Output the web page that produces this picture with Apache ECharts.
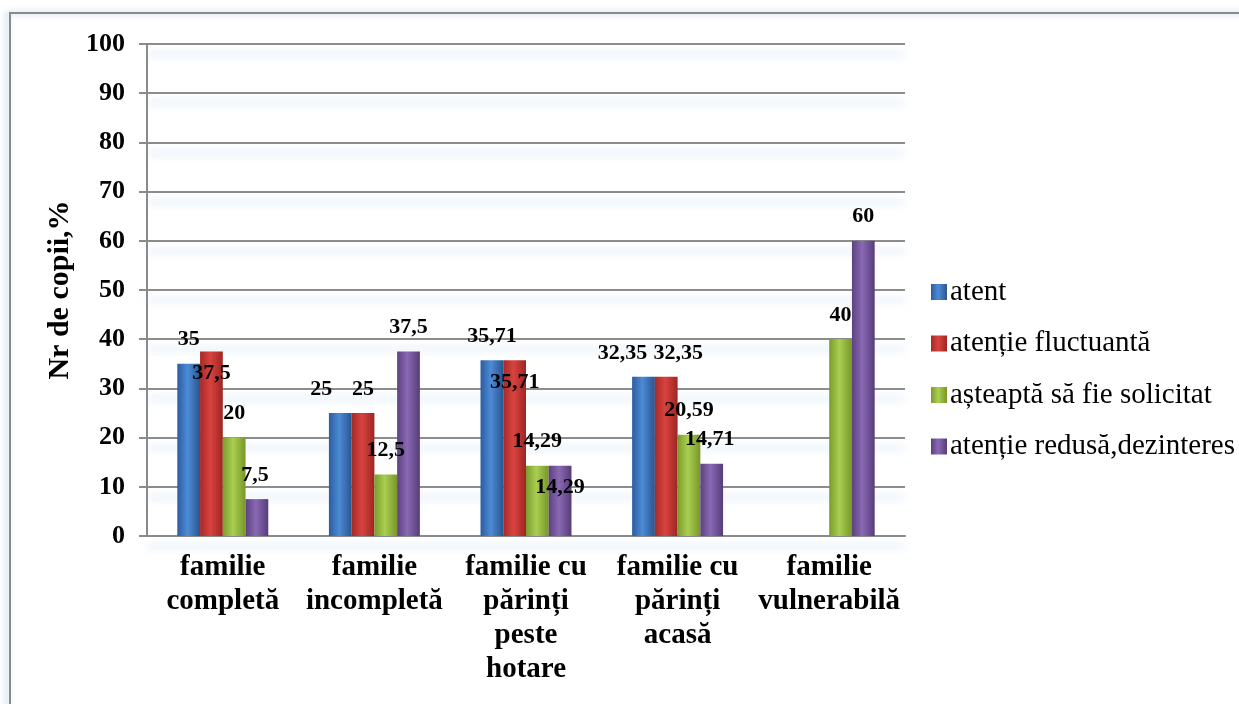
<!DOCTYPE html>
<html>
<head>
<meta charset="utf-8">
<script src="https://cdn.jsdelivr.net/npm/echarts@6/dist/echarts.min.js"></script>
<style>
  html, body { margin: 0; padding: 0; background: #fff; }
  #chart { width: 1239px; height: 704px; }
</style>
</head>
<body>
<div id="chart"></div>
<script>
const categories = [
  'familie\ncompletă',
  'familie\nincompletă',
  'familie cu\npărinți\npeste\nhotare',
  'familie cu\npărinți\nacasă',
  'familie\nvulnerabilă',
];
const seriesNames = ['atent', 'atenție fluctuantă', 'așteaptă să fie solicitat', 'atenție redusă,dezinteres'];
const atent = [35, 25, 35.71, 32.35, null];
const atentieFluctuanta = [37.5, 25, 35.71, 32.35, null];
const asteaptaSolicitat = [20, 12.5, 14.29, 20.59, 40];
const atentieRedusa = [7.5, 37.5, 14.29, 14.71, 60];
const yTicks = { min: 0, max: 100, interval: 10 };

// where each value label sits (Excel placed them by hand)
const labelPos = [
  ['top', 'top', 'top', 'top', 'top'],
  ['insideTop', 'top', 'insideTop', 'top', 'top'],
  ['top', 'top', 'top', 'top', 'top'],
  ['top', 'top', 'insideTop', 'top', 'top'],
];
const labelDx = [
  [0, -19, 0, -21, 0],
  [0, 0, 0, 12, 0],
  [0, 0, 0, 0, 0],
  [-2, 0, 0, -2, 0],
];

const serif = '"Liberation Serif", "Times New Roman", serif';

function grad(c0, c1, c2) {
  return new echarts.graphic.LinearGradient(0, 0, 1, 0, [
    { offset: 0, color: c0 },
    { offset: 0.45, color: c1 },
    { offset: 1, color: c2 },
  ]);
}

const colors = [
  grad('#2c5c9f', '#4d8bd6', '#2a558f'),
  grad('#a52a27', '#d8433f', '#9e2522'),
  grad('#7b9b2c', '#a9cf52', '#789628'),
  grad('#5c4180', '#8a69b4', '#563c78'),
];

const values = [atent, atentieFluctuanta, asteaptaSolicitat, atentieRedusa];

function makeData(arr, s) {
  return arr.map((v, i) => {
    if (v === null) return null;
    const pos = labelPos[s][i];
    return {
      value: v,
      label: {
        position: pos,
        distance: pos === 'top' ? 13 : 11,
        offset: [labelDx[s][i], 0],
      },
    };
  });
}

const chart = echarts.init(document.getElementById('chart'));

const option = {
  animation: false,
  backgroundColor: '#fff',
  graphic: [
    {
      type: 'rect',
      shape: { x: 10, y: 13, width: 1260, height: 740 },
      style: {
        fill: 'none',
        stroke: '#8a8a8a',
        lineWidth: 2,
        shadowColor: 'rgba(120,160,215,0.6)',
        shadowBlur: 6,
        shadowOffsetX: -3,
      },
      z: -1,
    },
  ],
  grid: {
    left: 147,
    right: 334,
    top: 44,
    bottom: 168,
  },
  legend: {
    orient: 'vertical',
    left: 926,
    top: 271,
    itemWidth: 16,
    itemHeight: 16,
    itemGap: 19.5,
    icon: 'rect',
    textStyle: {
      fontFamily: serif,
      fontSize: 29,
      color: '#000',
      lineHeight: 32,
      padding: [0, 0, 0, -2],
    },
    data: seriesNames,
  },
  xAxis: {
    type: 'category',
    data: categories,
    axisLine: { lineStyle: { color: '#8a8a8a', width: 2 } },
    axisTick: { show: false },
    axisLabel: {
      interval: 0,
      margin: 15,
      fontFamily: serif,
      fontWeight: 'bold',
      fontSize: 29,
      lineHeight: 34,
      color: '#000',
    },
  },
  yAxis: {
    type: 'value',
    min: yTicks.min,
    max: yTicks.max,
    interval: yTicks.interval,
    name: 'Nr de copii,%',
    nameLocation: 'middle',
    nameGap: 56,
    nameTextStyle: {
      fontFamily: serif,
      fontWeight: 'bold',
      fontSize: 30,
      color: '#000',
    },
    axisLine: { show: true, lineStyle: { color: '#8a8a8a', width: 2 } },
    axisTick: { show: true, length: 8, lineStyle: { color: '#8a8a8a', width: 2 } },
    axisLabel: {
      margin: 22,
      fontFamily: serif,
      fontWeight: 'bold',
      fontSize: 26,
      color: '#000',
    },
    splitLine: {
      lineStyle: {
        color: '#8c8c8c',
        width: 2,
        shadowColor: 'rgba(160,192,228,0.6)',
        shadowBlur: 9,
        shadowOffsetY: 10,
      },
    },
  },
  series: values.map((arr, s) => ({
    name: seriesNames[s],
    type: 'bar',
    barGap: '0%',
    barCategoryGap: '40%',
    data: makeData(arr, s),
    itemStyle: {
      color: colors[s],
    },
    label: {
      show: true,
      color: '#000',
      fontFamily: serif,
      fontWeight: 'bold',
      fontSize: 22,
      textBorderWidth: 0,
      formatter: (p) => String(p.value).replace('.', ','),
    },
  })),
};

chart.setOption(option);
</script>
</body>
</html>
